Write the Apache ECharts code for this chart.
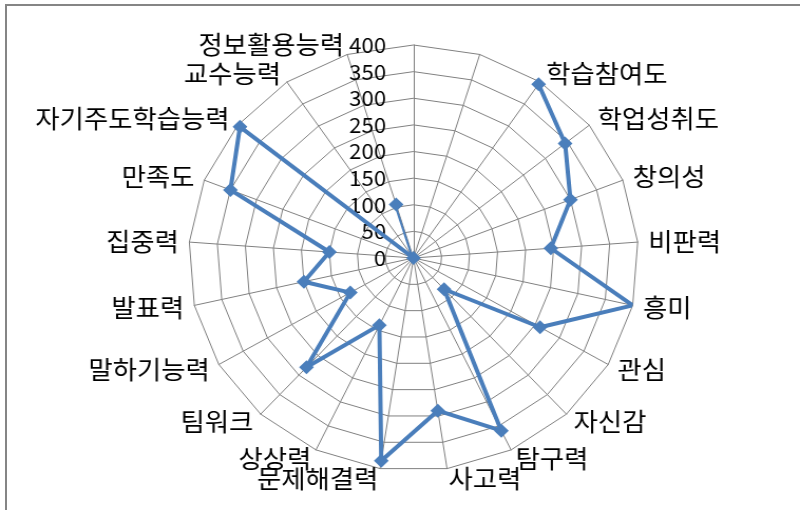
<!DOCTYPE html>
<html><head><meta charset="utf-8">
<script src="https://cdn.jsdelivr.net/npm/echarts@6/dist/echarts.min.js"></script>
<style>
html,body{margin:0;padding:0;background:#fff;overflow:hidden;width:800px;height:510px;}
#frame{position:absolute;left:5px;top:4px;width:820px;height:530px;border-top:2px solid #858585;border-left:2px solid #858585;}
#chart{position:absolute;left:0;top:0;width:758px;height:510px;transform:scaleX(1.0554);transform-origin:0 0;}
</style></head><body>
<div id="frame"></div>
<div id="chart"></div>
<script>
// categories clockwise from the top spoke
const categories = ['', '', '학습참여도', '학업성취도', '창의성', '비판력', '흥미', '관심', '자신감', '탐구력', '사고력',
  '문제해결력', '상상력', '팀워크', '말하기능력', '발표력', '집중력', '만족도', '자기주도학습능력', '교수능력', '정보활용능력'];
const values = [null, null, 395, 345, 300, 245, 400, 260, 80, 360, 290,
  385, 140, 280, 130, 200, 150, 350, 395, 0, 105];
const axisMin = 0;
const axisMax = 400;
const axisStep = 50;

const N = categories.length;
const CENTER = [391.8, 258];
const RADIUS = 213;
const FONT = '"Noto Sans CJK KR", "Noto Sans", sans-serif';

// radar draws counter-clockwise, so reverse the order after the first spoke
const indicators = categories.map((c, i) => ({ name: categories[(N - i) % N], min: axisMin, max: axisMax }));

const chart = echarts.init(document.getElementById('chart'), null, { renderer: 'canvas' });
chart.setOption({
  animation: false,
  backgroundColor: 'transparent',
  radar: {
    center: CENTER,
    radius: RADIUS,
    startAngle: 90,
    shape: 'polygon',
    splitNumber: (axisMax - axisMin) / axisStep,
    indicator: indicators,
    nameGap: 10,
    axisName: { color: '#000', fontSize: 25, fontFamily: FONT },
    axisLine: { lineStyle: { color: '#808080', width: 1 } },
    splitLine: { lineStyle: { color: '#808080', width: 1 } },
    splitArea: { show: false },
    axisTick: { show: false },
    axisLabel: { show: false }
  },
  polar: { center: CENTER, radius: RADIUS },
  angleAxis: {
    type: 'category',
    data: categories,
    startAngle: 90,
    clockwise: true,
    boundaryGap: false,
    axisLine: { show: false },
    axisTick: { show: false },
    axisLabel: { show: false },
    splitLine: { show: false }
  },
  radiusAxis: {
    min: axisMin,
    max: axisMax,
    interval: axisStep,
    axisLine: { show: false },
    axisTick: { show: false },
    splitLine: { show: false },
    axisLabel: { color: '#000', fontSize: 21, fontFamily: FONT, margin: 26 }
  },
  series: [{
    type: 'line',
    coordinateSystem: 'polar',
    data: values,
    connectNulls: false,
    symbol: 'diamond',
    symbolSize: 14,
    lineStyle: { color: '#4A7EBB', width: 4 },
    itemStyle: { color: '#4A7EBB' },
    z: 5
  }]
});
</script>
</body></html>
